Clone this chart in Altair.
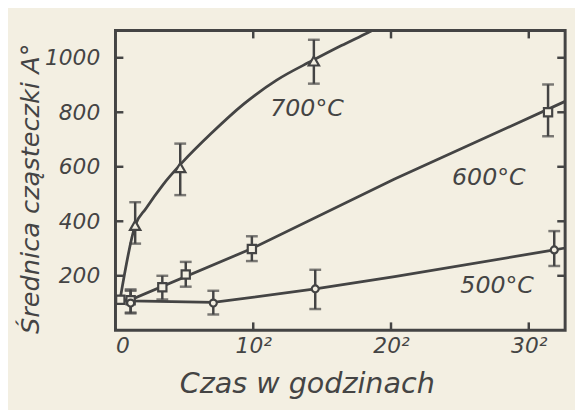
import altair as alt
import pandas as pd

BG = "#f3efe2"
INK = "#444444"
FONT = "DejaVu Sans"

# x is on a square-root time scale: tick 10 is labelled 10², etc.
x_ticks = [0, 10, 20, 30]
y_ticks = [200, 400, 600, 800, 1000]

# measured points (700 °C, triangles)
t700 = [1.43, 4.7, 14.4]
d700 = [385, 597, 988]
lo700 = [318, 496, 905]
hi700 = [470, 685, 1066]

# 600 °C, squares
t600 = [0.35, 1.1, 3.4, 5.1, 9.9, 31.4]
d600 = [112, 110, 158, 205, 298, 800]
lo600 = [112, 65, 113, 160, 254, 712]
hi600 = [112, 150, 200, 251, 345, 902]

# 500 °C, circles
t500 = [1.1, 7.1, 14.5, 31.85]
d500 = [100, 100, 152, 295]
lo500 = [62, 58, 78, 236]
hi500 = [145, 145, 222, 364]

# drawn curves
c700_t = [0.35, 1.43, 2.2, 3.43, 4.87, 6.9, 9.3, 11.7, 14.3, 16.4, 18.35, 19.2]
c700_d = [118, 385, 446, 533, 617, 720, 830, 918, 990, 1045, 1093, 1115]
c600_t = [0.35, 1.1, 9.9, 20.26, 32.64]
c600_d = [112, 112, 300, 555, 840]
c500_t = [0.35, 1.1, 7.1, 14.5, 20.26, 31.85, 32.64]
c500_d = [112, 108, 102, 152, 197, 295, 302]

labels = ["700°C", "600°C", "500°C"]
label_t = [13.9, 27.1, 27.7]
label_d = [810, 557, 163]

xs = alt.Scale(domain=[0, 32.64], nice=False, zero=False)
ys = alt.Scale(domain=[0, 1100], nice=False, zero=False)

pts = pd.concat([
    pd.DataFrame({"s": "700", "t": t700, "d": d700, "lo": lo700, "hi": hi700}),
    pd.DataFrame({"s": "600", "t": t600, "d": d600, "lo": lo600, "hi": hi600}),
    pd.DataFrame({"s": "500", "t": t500, "d": d500, "lo": lo500, "hi": hi500}),
])
err = pts[pts["hi"] > pts["lo"]]
caps = pd.concat([
    err[["t", "lo"]].rename(columns={"lo": "v"}),
    err[["t", "hi"]].rename(columns={"hi": "v"}),
])

xenc = alt.X(
    "t:Q", scale=xs,
    axis=alt.Axis(
        values=x_ticks, labelExpr="datum.value == 0 ? '0' : datum.value + '²'",
        title="Czas w godzinach", titleX=194, titleY=54,
        titleAlign="center", titleBaseline="middle",
        titleFontSize=29, titleFontStyle="italic", titleFontWeight="normal",
        titleFont=FONT, titleColor=INK,
        labelFontSize=22, labelFont=FONT, labelFontStyle="italic", labelColor=INK,
        labelPadding=6, grid=False, domain=False, ticks=False, tickSize=0,
    ),
)
yenc = alt.Y(
    "d:Q", scale=ys,
    axis=alt.Axis(
        values=y_ticks, format="d", title="Średnica cząsteczki A°",
        titleX=-86, titleY=160, titleAngle=270,
        titleAlign="center", titleBaseline="middle",
        titleFontSize=26, titleFontStyle="italic", titleFontWeight="normal",
        titleFont=FONT, titleColor=INK,
        labelFontSize=22, labelFont=FONT, labelFontStyle="italic", labelColor=INK,
        labelPadding=16, grid=False, domain=False, ticks=False, tickSize=0,
    ),
)

def curve(ts, ds, interp):
    return alt.Chart(pd.DataFrame({"t": ts, "d": ds})).mark_line(
        color=INK, strokeWidth=2.8, interpolate=interp, clip=True
    ).encode(x=xenc, y=yenc)

l700 = curve(c700_t, c700_d, "monotone")
l600 = curve(c600_t, c600_d, "linear")
l500 = curve(c500_t, c500_d, "linear")

bars = alt.Chart(err).mark_rule(color=INK, strokeWidth=2.5).encode(
    x=alt.X("t:Q", scale=xs), y=alt.Y("lo:Q", scale=ys), y2="hi:Q"
)
capm = alt.Chart(caps).mark_tick(
    color=INK, orient="horizontal", size=12, thickness=2.5
).encode(x=alt.X("t:Q", scale=xs), y=alt.Y("v:Q", scale=ys))

def marks(series, shape, size):
    return alt.Chart(pts[pts["s"] == series]).mark_point(
        shape=shape, size=size, filled=True, fill=BG, stroke=INK,
        strokeWidth=2.2, opacity=1
    ).encode(x=alt.X("t:Q", scale=xs), y=alt.Y("d:Q", scale=ys))

tri = marks("700", "triangle-up", 110)
sq = marks("600", "square", 70)
circ = marks("500", "circle", 50)

lab = alt.Chart(pd.DataFrame({"txt": labels, "t": label_t, "d": label_d})).mark_text(
    font=FONT, fontSize=24, fontStyle="italic", color=INK, align="center",
    baseline="middle"
).encode(x=alt.X("t:Q", scale=xs), y=alt.Y("d:Q", scale=ys), text="txt:N")

ydf = pd.DataFrame({"d": y_ticks})
xdf = pd.DataFrame({"t": x_ticks[1:]})
lt = alt.Chart(ydf).mark_rule(color=INK, strokeWidth=2.5).encode(
    y=alt.Y("d:Q", scale=ys), x=alt.value(0), x2=alt.value(8))
rt = alt.Chart(ydf).mark_rule(color=INK, strokeWidth=2.5).encode(
    y=alt.Y("d:Q", scale=ys), x=alt.value(448), x2=alt.value(456))
bt = alt.Chart(xdf).mark_rule(color=INK, strokeWidth=2.5).encode(
    x=alt.X("t:Q", scale=xs), y=alt.value(296), y2=alt.value(304))
tt = alt.Chart(xdf).mark_rule(color=INK, strokeWidth=2.5).encode(
    x=alt.X("t:Q", scale=xs), y=alt.value(0), y2=alt.value(8))

chart = alt.layer(l700, l600, l500, bars, capm, tri, sq, circ, lab, lt, rt, bt, tt).properties(
    width=456, height=304,
    autosize=alt.AutoSizeParams(type="none"),
    padding={"left": 109, "top": 20, "right": 10, "bottom": 78},
    background=BG,
).configure_view(stroke=INK, strokeWidth=3)

chart.save("out.html", embed_options={"renderer": "svg", "actions": False})
